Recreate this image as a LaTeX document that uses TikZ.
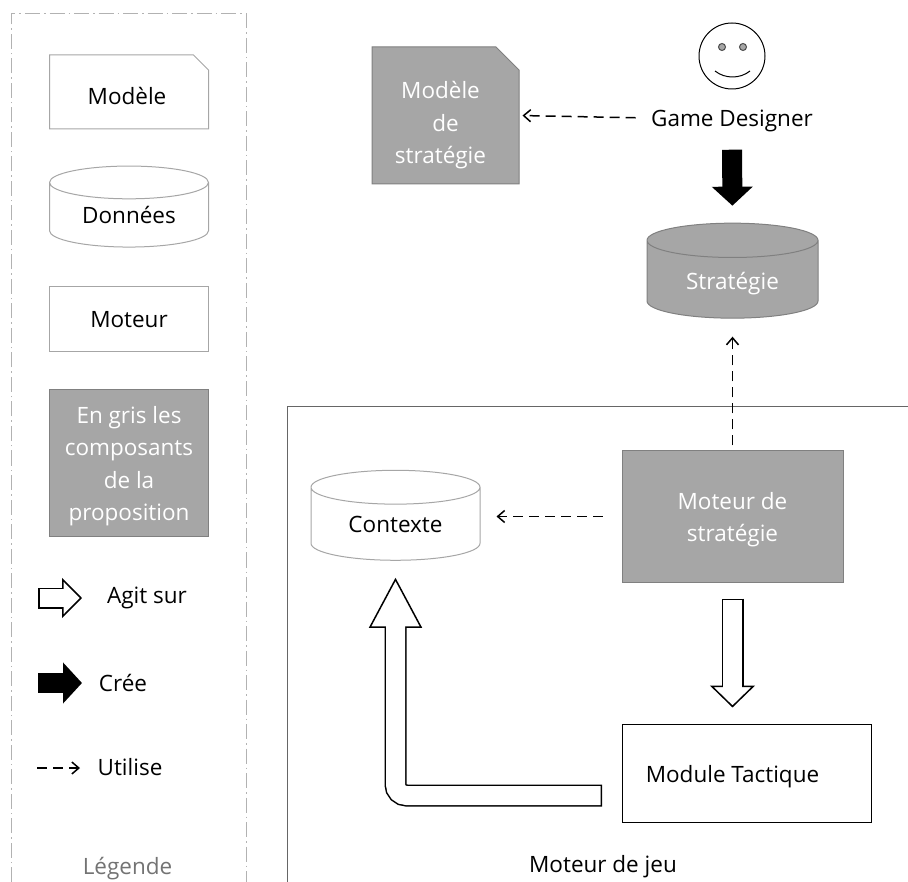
\documentclass[tikz,border=0pt]{standalone}
\usepackage{fontspec}
\setmainfont{Open Sans}
\usepackage{tikz}
\usetikzlibrary{shapes, arrows.meta}
\newcommand{\dn}[1]{\rule{0pt}{#1}}

\begin{document}
\begin{tikzpicture}[x=1pt, y=-1pt]
    \tikzstyle{txt} = [font=\fontsize{22.5}{32.5}\selectfont, text=black, align=center]
    \tikzstyle{wht} = [txt, text=white]
    \tikzstyle{line1} = [draw=black!35, line width=1pt, fill=white]
    \tikzstyle{grey1} = [draw=black!50, line width=1pt, fill=black!35]
    \tikzstyle{s1} = [rectangle, inner sep=0pt]
    \tikzstyle{s2} = [chamfered rectangle, chamfered rectangle corners=north east, inner sep=0pt]
    \tikzstyle{s3} = [cylinder, shape border rotate=90, inner sep=0pt]
    \tikzstyle{frame} = [draw=black!30, line width=1pt, dash pattern=on 15pt off 4pt on 1.5pt off 4pt]
    \tikzstyle{uses} = [black, line width=1.5pt, dash pattern=on 10pt off 6pt, -{Straight Barb[length=7pt, width=12pt]}]
    \tikzstyle{creates} = [black, line width=20pt, -{Triangle[length=19pt, width=40pt]}]
    \useasboundingbox (0, 0) rectangle (908, 882);

    \draw[frame] (11, 882) -- (11, 14) -- (246, 14) -- (246, 882);
    \draw[draw=black!60, line width=1pt] (287, 882) -- (287, 407) -- (908, 407);

    \node (legmodel) at (129, 92) [s2, line1, txt, minimum width=159pt, minimum height=74pt, chamfered rectangle xsep=7.5pt, chamfered rectangle ysep=7.5pt] {\dn{25pt}Modèle\hspace*{4pt}};
    \node (legdata) at (129, 215) [s3, line1, txt, minimum width=159pt, minimum height=81pt, aspect=0.35] {Données};
    \node (legengine) at (129, 319.5) [s1, line1, txt, minimum width=159pt, minimum height=65pt] {Moteur};
    \node (leggrey) at (129, 463) [s1, grey1, wht, minimum width=159pt, minimum height=146pt] {\dn{23pt}En gris les\\composants\\de la\\proposition};

    \node (labacts) at (147, 598) [txt] {Agit sur};
    \node (labcreates) at (123, 683) [txt] {Crée};
    \node (labuses) at (130, 767) [txt] {Utilise};
    \node (lableg) at (127.5, 869) [txt, text=black!55] {Légende};
    \coordinate (acts0) at (38, 598);
    \coordinate (acts1) at (82, 598);
    \coordinate (creates0) at (38, 683);
    \coordinate (creates1) at (82, 683);
    \coordinate (uses0) at (37, 768);
    \coordinate (uses1) at (80, 768);
    \draw[line width=21pt, black, -{Triangle[fill=white, line width=1.5pt, length=20pt, width=40pt]},
        postaction={draw=white, line width=18pt, -, shorten <=1.5pt, shorten >=18pt}] (acts0) -- (acts1);
    \draw[creates] (creates0) -- (creates1);
    \draw[uses] (uses0) -- (uses1);

    \node (smodel) at (445.5, 115.5) [s2, grey1, wht, minimum width=147pt, minimum height=137pt, chamfered rectangle xsep=11.5pt, chamfered rectangle ysep=11.5pt] {\dn{37pt}Modèle\hspace*{10pt}\\de\hspace*{10pt}\\stratégie\hspace*{10pt}};
    \node (face) at (732, 56) [circle, draw=black, line width=1pt, minimum size=66pt, inner sep=0pt] {};
    \node (eye1) at (722, 47) [circle, draw=black!70, fill=black!35, line width=1pt, minimum size=7pt, inner sep=0pt] {};
    \node (eye2) at (743, 47) [circle, draw=black!70, fill=black!35, line width=1pt, minimum size=7pt, inner sep=0pt] {};
    \draw[line width=1pt] (715, 71) .. controls (725, 79) and (740, 79) .. (750, 71);
    \node (designer) at (732, 118) [txt] {\dn{23pt}Game Designer};
    \node (strat) at (732.5, 279.5) [s3, grey1, wht, minimum width=171pt, minimum height=95pt, aspect=0.37] {\dn{25pt}Stratégie};
    \node (sengine) at (732.5, 516.5) [s1, grey1, wht, minimum width=221pt, minimum height=131pt] {\dn{23pt}Moteur de\\stratégie};
    \node (ctx) at (395.5, 524) [s3, line1, txt, minimum width=169pt, minimum height=90pt, aspect=0.36] {Contexte};
    \node (tactic) at (746.5, 773) [s1, txt, draw=black, line width=1pt, fill=white, minimum width=249pt, minimum height=98pt] {\dn{25pt}Module Tactique\hspace*{28pt}};
    \node (game) at (603, 867) [txt] {Moteur de jeu};
    \coordinate (tail) at (602, 795.5);

    \draw[uses, shorten <=12pt, shorten >=3pt] (designer.west) -- (smodel.east);
    \draw[creates, shorten <=14pt, shorten >=17pt] (designer.south) -- (strat.north);
    \draw[uses, shorten <=5pt, shorten >=18pt] (sengine.north) -- (strat.south);
    \draw[uses, shorten <=19pt, shorten >=16pt] (sengine.west) -- (ctx.east |- sengine.west);
    \draw[black, line width=22pt, shorten <=16pt, shorten >=16pt, -{Triangle[fill=white, line width=1.5pt, length=22pt, width=45pt]},
        postaction={draw=white, line width=19pt, -, shorten <=17.5pt, shorten >=36pt}] (sengine.south) -- (sengine.south |- tactic.north);
    \draw[black, line width=22pt, rounded corners=11pt, shorten >=17pt, -{Triangle[fill=white, line width=1.5pt, length=50pt, width=53pt]},
        postaction={draw=white, line width=19pt, -, shorten <=1.5pt, shorten >=65pt}] (tail) -| (ctx.south);
\end{tikzpicture}
\end{document}
